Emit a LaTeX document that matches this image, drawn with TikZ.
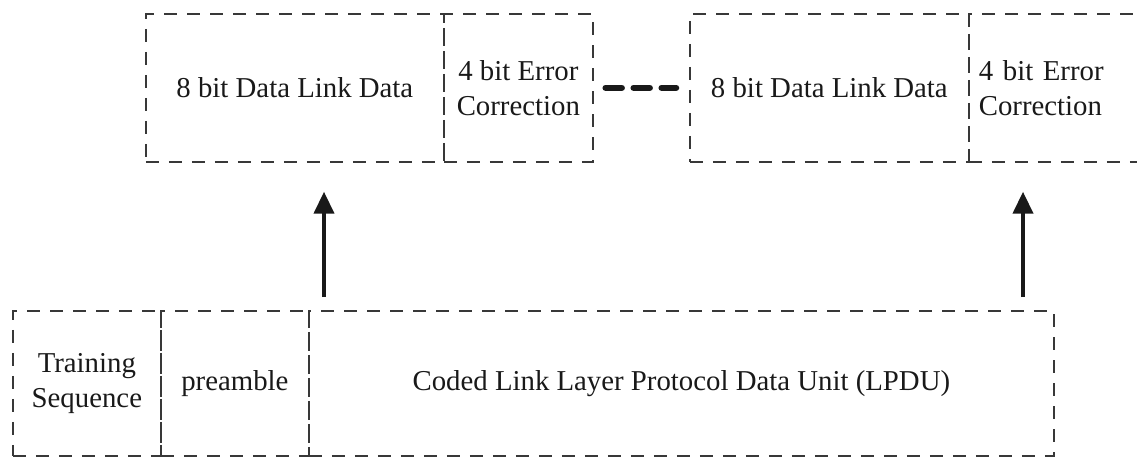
\documentclass[tikz,border=0pt]{standalone}
\usepackage{fontspec}
\setmainfont{Liberation Serif}
\usetikzlibrary{arrows.meta}
\begin{document}
\begin{tikzpicture}[x=1pt,y=-1pt,
  cell/.style={draw=black!78, line width=1.7pt, dash pattern=on 13pt off 10pt,
    rectangle, anchor=north west, inner sep=0pt, text=black!90,
    font=\fontsize{28.8}{35}\selectfont, align=center},
  uparrow/.style={line width=4pt, draw=black!90,
    -{Triangle[width=20pt,length=22pt]}},
  dots/.style={line width=6.5pt, draw=black!90, line cap=round, dash pattern=on 16pt off 12pt}]
\useasboundingbox (0,0) rectangle (1137,457);
% top left frame
\node[cell, minimum width=298pt, minimum height=148pt] (d1) at (145,13) {8 bit Data Link Data};
\node[cell, minimum width=149pt, minimum height=148pt] (e1) at (443,13) {4 bit Error\\Correction};
% top right frame
\node[cell, minimum width=279pt, minimum height=148pt] (d2) at (689,13) {8 bit Data Link Data};
\node[cell, minimum height=148pt, text width=172pt, inner xsep=10pt, align=left] (e2) at (968,13) {4 bit Error\\Correction};
% bottom frame
\node[cell, minimum width=148pt, minimum height=145pt] (ts) at (12,310) {Training\\Sequence};
\node[cell, minimum width=148pt, minimum height=145pt] (pre) at (160,310) {preamble};
\node[cell, minimum width=745pt, minimum height=145pt] (lpdu) at (308,310) {Coded Link Layer Protocol Data Unit (LPDU)};
% connector between frames
\draw[dots, shorten <=12pt, shorten >=13pt] (e1.east) -- (d2.west);
% arrows
\coordinate (a1) at (324,297);
\coordinate (a2) at (1023,297);
\draw[uparrow, shorten >=29pt] (a1) -- (a1 |- d1.south);
\draw[uparrow, shorten >=29pt] (a2) -- (a2 |- e2.south);
\end{tikzpicture}
\end{document}
